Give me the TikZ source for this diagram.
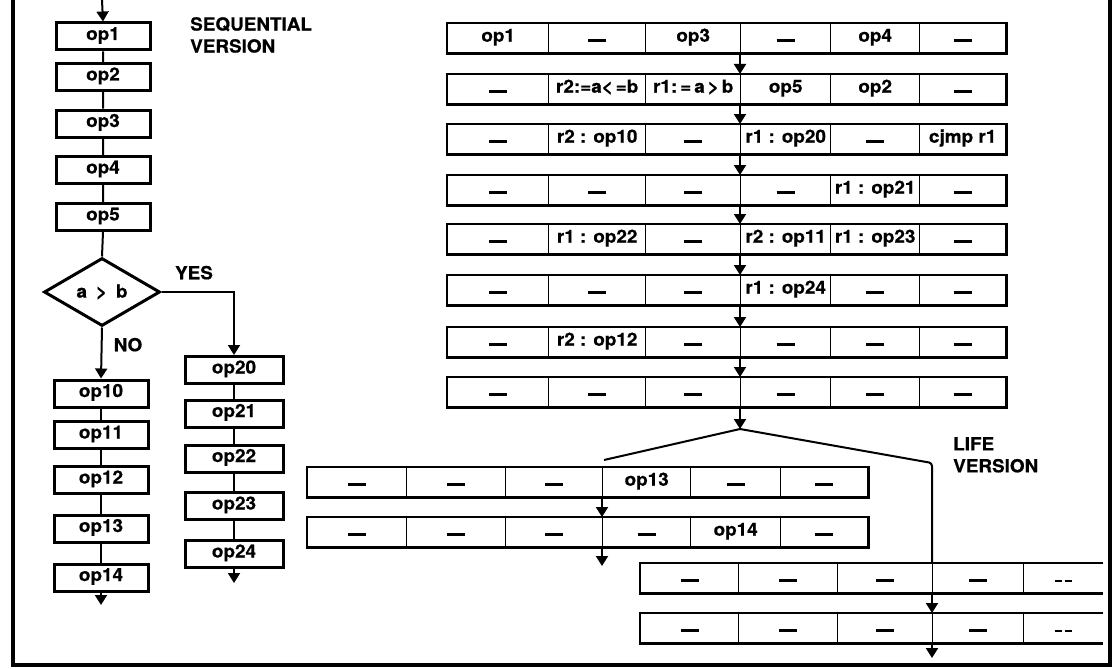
\documentclass[tikz,border=0pt]{standalone}
\usepackage{fontspec}
\newfontfamily\lab{TeX Gyre Heros}[FakeStretch=1.05,FakeBold=0.6]
\usetikzlibrary{arrows.meta,shapes.geometric}

% short bold dash used for empty slots
\newcommand\dsh{\rule{18pt}{2.8pt}}
\newcommand\dshh{\rule{7pt}{1.8pt}\hspace{3pt}\rule{7pt}{1.8pt}}

\tikzset{
  txt/.style={font=\lab\bfseries\fontsize{18}{22}\selectfont},
  opbox/.style={txt, draw, line width=3pt, minimum width=94pt, minimum height=27pt,
    inner sep=0pt, text height=10pt, text depth=3pt},
  cell/.style={txt, draw, line width=1.4pt, minimum height=29pt, inner sep=0pt,
    anchor=north west, text height=10pt, text depth=3pt},
  rowframe/.style={line width=2.4pt},
  link/.style={line width=2pt},
  arr/.style={line width=2pt, -{Triangle[width=12pt,length=10pt]}},
  frameline/.style={line width=4pt},
}

% one row of the 6-slot instruction word
\newcommand\toprow[8]{%
  \foreach \c/\xa/\xb/\lbl in {1/447/548/{#3}, 2/548/645/{#4}, 3/645/740/{#5},
                               4/740/830/{#6}, 5/830/919/{#7}, 6/919/1005/{#8}}
    {\node[cell, minimum width={(\xb-\xa)*1pt}] (#1c\c) at (\xa,#2) {\lbl};}
  \draw[rowframe] (#1c1.north west) rectangle (#1c6.south east);
}
% rows of the left successor branch
\newcommand\leftrow[8]{%
  \foreach \c/\xa/\xb/\lbl in {1/307/406/{#3}, 2/406/505/{#4}, 3/505/602/{#5},
                               4/602/690/{#6}, 5/690/780/{#7}, 6/780/867/{#8}}
    {\node[cell, minimum width={(\xb-\xa)*1pt}] (#1c\c) at (\xa,#2) {\lbl};}
  \draw[rowframe] (#1c1.north west) rectangle (#1c6.south east);
}
% rows of the right successor branch (open on the right)
\newcommand\rightrow[2]{%
  \foreach \c/\xa/\xb/\lbl in {1/640/738/\dsh, 2/738/837/\dsh, 3/837/932/\dsh,
                               4/932/1023/\dsh}
    {\node[cell, minimum width={(\xb-\xa)*1pt}] (#1c\c) at (\xa,#2) {\lbl};}
  \node[cell, draw=none, minimum width=79pt] (#1c5) at (1023,#2) {\dshh};
  \draw[rowframe] (#1c5.north east) -- (#1c1.north west) -- (#1c1.south west) -- (#1c5.south east);
}

\begin{document}
\begin{tikzpicture}[x=1pt, y=-1pt]
\useasboundingbox (0,0) rectangle (1114,669);

% outer frame
\draw[frameline] (12.5,0) -- (12.5,665) -- (1110,665) -- (1110,0);

% ---------- sequential flowchart ----------
\coordinate (in) at (102,0);
\node[opbox] (s1) at (103,36.5) {op1};
\node[opbox] (s2) at (103,77) {op2};
\node[opbox] (s3) at (103,123.5) {op3};
\node[opbox] (s4) at (103,170) {op4};
\node[opbox] (s5) at (103,217) {op5};
\node[diamond, draw, line width=3pt, minimum width=116pt, minimum height=68pt,
      inner sep=0pt, txt] (dec) at (102,292) {a\enspace>\enspace b};

\node[opbox] (s10) at (101,393.5) {op10};
\node[opbox] (s11) at (101,435) {op11};
\node[opbox] (s12) at (101,480) {op12};
\node[opbox] (s13) at (101,528.5) {op13};
\node[opbox] (s14) at (101,577.5) {op14};
\coordinate (out14) at (101,605);

\node[opbox, minimum width=98pt] (s20) at (234,370) {op20};
\node[opbox, minimum width=98pt] (s21) at (234,413.5) {op21};
\node[opbox, minimum width=98pt] (s22) at (234,458.5) {op22};
\node[opbox, minimum width=98pt] (s23) at (234,506) {op23};
\node[opbox, minimum width=98pt] (s24) at (234,554) {op24};
\coordinate (out24) at (234,583);

\draw[arr] (in) -- (s1.north);
\draw[link] (s1) -- (s2) (s2) -- (s3) (s3) -- (s4) (s4) -- (s5) (s5.south) -- (dec.north);
\draw[arr] (dec.south) -- (s10.north);
\draw[arr] (dec.east) -| (s20.north);
\draw[link] (s10) -- (s11) (s11) -- (s12) (s12) -- (s13) (s13) -- (s14);
\draw[link] (s20) -- (s21) (s21) -- (s22) (s22) -- (s23) (s23) -- (s24);
\draw[arr] (s14.south) -- (out14);
\draw[arr] (s24.south) -- (out24);

\node[txt, anchor=south] (yes) at (194,283) {YES};
\node[txt, anchor=south] (no) at (128,355) {NO};
\node[txt, align=left, anchor=north west, inner sep=0pt] (seq) at (190,17)
  {SEQUENTIAL\\VERSION};

% ---------- LIFE schedule ----------
\toprow{a}{23}{op1}{\dsh}{op3}{\dsh}{op4}{\dsh}
\toprow{b}{74}{\dsh}{r2:=a<\,=b}{r1:\,=\,a\,>\,b}{op5}{op2}{\dsh}
\toprow{c}{124}{\dsh}{r2 : op10}{\dsh}{r1 : op20}{\dsh}{cjmp r1}
\toprow{d}{175}{\dsh}{\dsh}{\dsh}{\dsh}{r1 : op21}{\dsh}
\toprow{e}{224}{\dsh}{r1 : op22}{\dsh}{r2 : op11}{r1 : op23}{\dsh}
\toprow{f}{275}{\dsh}{\dsh}{\dsh}{r1 : op24}{\dsh}{\dsh}
\toprow{g}{327}{\dsh}{r2 : op12}{\dsh}{\dsh}{\dsh}{\dsh}
\toprow{h}{377}{\dsh}{\dsh}{\dsh}{\dsh}{\dsh}{\dsh}

\foreach \p/\q in {a/b, b/c, c/d, d/e, e/f, f/g, g/h}
  \draw[arr] (\p c4.south west) -- (\q c4.north west);

\coordinate (split) at (740,429);
\coordinate (lend) at (604,460);
\coordinate (bend) at (932,463);
\draw[arr] (hc4.south west) -- (split);

\leftrow{l}{467}{\dsh}{\dsh}{\dsh}{op13}{\dsh}{\dsh}
\leftrow{m}{517}{\dsh}{\dsh}{\dsh}{\dsh}{op14}{\dsh}
\rightrow{p}{563}
\rightrow{q}{613}

\draw[link] (split) -- (lend);
\draw[link, rounded corners=3pt] (split) -- (bend) -- (pc4.north west);
\draw[arr] (lc4.south west) -- (mc4.north west);
\coordinate (outl) at (602,566);
\draw[arr] (mc4.south west) -- (outl);
\draw[arr] (pc4.south west) -- (qc4.north west);
\coordinate (outr) at (932,658);
\draw[arr] (qc4.south west) -- (outr);

\node[txt, align=left, anchor=north west, inner sep=0pt] (life) at (953,437)
  {LIFE\\VERSION};
\end{tikzpicture}
\end{document}
